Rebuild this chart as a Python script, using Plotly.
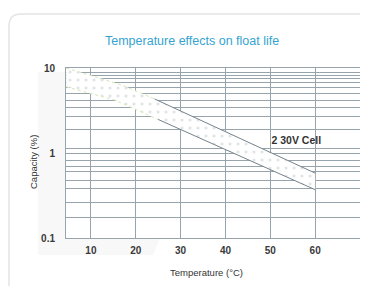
import plotly.graph_objects as go

# ---- data ----
x_ticks = [10, 20, 30, 40, 50, 60]
y_ticks = [0.1, 1, 10]
y_tick_labels = ["0.1", "1", "10"]
y_minor_grid = [8.97, 8.16, 7.52, 6.84, 5.90, 5.01, 4.15, 3.43, 2.69, 1.89, 1.13,
                0.823, 0.70, 0.60, 0.47, 0.379, 0.26, 0.176]

upper_t = [4.5, 16.9, 24.2, 60]
upper_v = [10.0, 6.3, 4.32, 0.58]
lower_t = [4.5, 15.3, 25, 60]
lower_v = [6.0, 4.2, 2.48, 0.37]
series_label = "2 30V Cell"
label_t, label_v = 55.8, 1.36

title_text = "Temperature effects on float life"
x_title = "Temperature (°C)"
y_title = "Capacity (%)"

OFF = 8  # page body margin
W, H = 368 - OFF, 286 - OFF
# plot area in screen pixels: x 66..360, y 68..238
L, T = 66 - OFF, 68 - OFF
R = W - (360 - OFF)
B = H - (238 - OFF)
pw, ph = W - L - R, H - T - B


def px(xs):
    return (xs - OFF - L) / pw


def py(ys):
    return (H - B - (ys - OFF)) / ph


GRID = "#98a4ac"
EDGE = "#74828b"
GREEN = "#d6e8b4"
FONT = "Liberation Sans, Arial, sans-serif"

fig = go.Figure()

# band fill
fig.add_trace(go.Scatter(x=lower_t, y=lower_v, mode="lines",
                         line=dict(width=0, color="rgba(0,0,0,0)"), hoverinfo="skip"))
fig.add_trace(go.Scatter(x=upper_t, y=upper_v, mode="lines", fill="tonexty",
                         fillcolor="white",
                         fillpattern=dict(shape=".", fgcolor="#c3c9cd", bgcolor="white",
                                          size=8, solidity=0.12),
                         line=dict(width=0, color="rgba(0,0,0,0)"), hoverinfo="skip"))

# edges: green on the left part, gray on the right part
fig.add_trace(go.Scatter(x=upper_t[:3], y=upper_v[:3], mode="lines",
                         line=dict(color=GREEN, width=1, dash="dot")))
fig.add_trace(go.Scatter(x=upper_t[2:], y=upper_v[2:], mode="lines",
                         line=dict(color=EDGE, width=1)))
fig.add_trace(go.Scatter(x=lower_t[:3], y=lower_v[:3], mode="lines",
                         line=dict(color=GREEN, width=1, dash="dot")))
fig.add_trace(go.Scatter(x=lower_t[2:], y=lower_v[2:], mode="lines",
                         line=dict(color=EDGE, width=1)))

fig.add_trace(go.Scatter(x=[label_t], y=[label_v], mode="text", text=[series_label],
                         textfont=dict(family=FONT, size=10.5, color="#333333", weight="bold"),
                         textposition="middle center"))

shapes = []
# faint watermark region
shapes.append(dict(type="path", xref="paper", yref="paper", layer="below",
                   path=f"M {px(38)},{py(72)} L {px(66)},{py(72)} L {px(66)},{py(238)} "
                        f"L {px(160)},{py(238)} L {px(153)},{py(255)} L {px(38)},{py(255)} Z",
                   fillcolor="#f8f8f8", line=dict(width=0)))
# card border
r = 12
shapes.append(dict(type="path", xref="paper", yref="paper", layer="below",
                   path=f"M {px(9)},{py(300)} L {px(9)},{py(14 + r)} "
                        f"Q {px(9)},{py(14)} {px(9 + r)},{py(14)} L {px(380)},{py(14)}",
                   line=dict(color="#e4e4e4", width=1.5)))

annotations = [
    dict(text=title_text, xref="paper", yref="paper", x=px(192), y=py(41),
         showarrow=False, xanchor="center", yanchor="middle",
         font=dict(family=FONT, size=12.5, color="#36a3cf")),
    dict(text=x_title, xref="paper", yref="paper", x=px(206), y=py(272),
         showarrow=False, xanchor="center", yanchor="middle",
         font=dict(family=FONT, size=9.5, color="#333333")),
    dict(text=y_title, xref="paper", yref="paper", x=px(33), y=py(162),
         showarrow=False, xanchor="center", yanchor="middle", textangle=-90,
         font=dict(family=FONT, size=9.5, color="#333333")),
]

fig.update_layout(
    width=W, height=H, margin=dict(l=L, r=R, t=T, b=B),
    paper_bgcolor="white", plot_bgcolor="white", showlegend=False,
    shapes=shapes, annotations=annotations,
    xaxis=dict(range=[4.44, 70], tickvals=x_ticks, showgrid=True, gridcolor=GRID,
               gridwidth=1, zeroline=False, showline=True, linecolor=GRID, mirror=True,
               ticks="outside", ticklen=3, tickcolor="rgba(0,0,0,0)",
               tickfont=dict(family=FONT, size=10, color="#3a3a3a", weight="bold")),
    yaxis=dict(type="log", range=[-1, 1], tickvals=y_ticks, ticktext=y_tick_labels,
               showgrid=True, gridcolor=GRID, gridwidth=1, zeroline=False,
               showline=True, linecolor=GRID, mirror=True,
               ticks="outside", ticklen=8, tickcolor="rgba(0,0,0,0)",
               tickfont=dict(family=FONT, size=10, color="#3a3a3a", weight="bold"),
               minor=dict(tickvals=y_minor_grid, showgrid=True, gridcolor=GRID,
                          gridwidth=1, ticks="")),
)

fig.write_html("out.html")
